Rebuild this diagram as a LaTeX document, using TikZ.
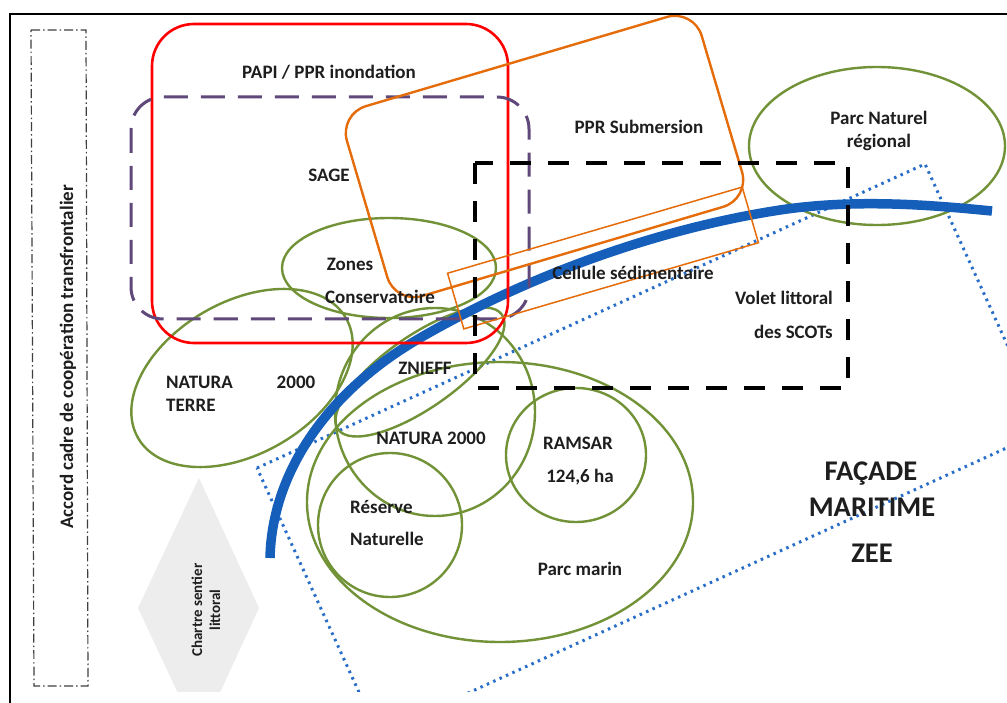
\documentclass[tikz,border=0pt]{standalone}
\usepackage{fontspec}
\setmainfont{Carlito}
\definecolor{grn}{RGB}{113,146,55}
\definecolor{sea}{RGB}{21,94,186}
\definecolor{dotblue}{RGB}{40,110,200}
\definecolor{org}{RGB}{228,108,10}
\definecolor{prp}{RGB}{96,73,122}
\definecolor{txt}{RGB}{30,30,30}
\definecolor{hexfill}{RGB}{237,237,237}
\tikzset{
  zone/.style={draw=grn, line width=2.4pt},
  lbl/.style={font=\bfseries\fontsize{19}{23}\selectfont, text=txt, inner sep=0pt},
  big/.style={font=\bfseries\fontsize{28.5}{32}\selectfont, text=txt, inner sep=0pt},
  small/.style={font=\bfseries\fontsize{15}{18}\selectfont, text=txt, inner sep=0pt},
}
\begin{document}
\begin{tikzpicture}[x=1pt,y=-1pt]
\useasboundingbox (0,0) rectangle (1007,703);
\fill[white] (0,0) rectangle (1007,703);

\begin{scope}
\clip (0,0) rectangle (1007,691);

% framework agreement box
\draw[black!75, line width=1.2pt, dash pattern=on 9pt off 3pt on 1.5pt off 3pt]
  (31,30) -- (86,30) -- (88,686) -- (34,686) -- cycle;
\node[lbl, rotate=90] (accord) at (68,357) {Accord cadre de coopération transfrontalier};

% coastal path charter
\fill[hexfill] (199,478) -- (259,608) -- (199,738) -- (138,608) -- cycle;
\node[small, rotate=90, align=center] (charte) at (206,610) {Chartre sentier\\littoral};

% maritime zone (dotted)
\draw[dotblue, line width=3pt, dash pattern=on 2.5pt off 4.5pt]
  (257,468) -- (925,164) -- (1046,430) -- (378,734) -- cycle;

% protected areas
\draw[zone] (877,146) ellipse [x radius=128, y radius=79];
\draw[zone] (389,268) ellipse [x radius=107, y radius=50];
\draw[zone, rotate around={30:(242,378)}] (242,378) ellipse [x radius=120, y radius=76];
\draw[zone, rotate around={35:(420,372)}] (420,372) ellipse [x radius=100, y radius=36];
\draw[zone] (435,412) ellipse [x radius=100, y radius=104];
\draw[zone] (390,525) circle [radius=72];
\draw[zone] (576,455) ellipse [x radius=70, y radius=67];
\draw[zone] (500,502) ellipse [x radius=193, y radius=140];

% coastline
\draw[sea, line width=9.5pt]
  (270,558) .. controls (272,470) and (330,390) .. (420,338)
            .. controls (520,280) and (650,230) .. (780,210)
            .. controls (860,198) and (940,206) .. (992,211);

% flood plans
\draw[red, line width=2.6pt, rounded corners=42] (152,24) rectangle (508,343);
\draw[prp, line width=3pt, dash pattern=on 24pt off 13pt, rounded corners=32] (131,97) rectangle (529,319);

% submersion and sediment cell
\draw[org, line width=2.4pt, rounded corners=28, rotate around={16.5:(544.5,156.5)}]
  (359.5,57.5) rectangle (729.5,255.5);
\draw[org, line width=1.5pt, rotate around={16.3:(603,258)}]
  (449.5,229) rectangle (756.5,287);

% SCOT coastal section
\draw[black, line width=4.5pt, dash pattern=on 21pt off 17pt] (475,163) rectangle (848,388);
\end{scope}

% outer frame
\draw[black, line width=2.5pt] (10,703) -- (10,14) -- (1007,14);

% labels
\node[lbl] (papi) at (329,72) {PAPI / PPR inondation};
\node[lbl] (sage) at (329,175) {SAGE};
\node[lbl] (ppr) at (639,127) {PPR Submersion};
\node[lbl] (pnr1) at (879,118) {Parc Naturel};
\node[lbl] (pnr2) at (879,142) {régional};
\node[lbl] (zones) at (350,264) {Zones};
\node[lbl] (cons) at (380,297) {Conservatoire};
\node[lbl] (cell) at (633,273) {Cellule sédimentaire};
\node[lbl, anchor=east] (volet) at (833,298) {Volet littoral};
\node[lbl, anchor=east] (scot) at (833,332) {des SCOTs};
\node[lbl] (znieff) at (425,368) {ZNIEFF};
\node[lbl] (natura) at (431,438) {NATURA 2000};
\node[lbl, anchor=west] (nt1) at (166,382) {NATURA};
\node[lbl] (nt2) at (296,382) {2000};
\node[lbl, anchor=west] (nt3) at (166,405) {TERRE};
\node[lbl] (ramsar) at (578,443) {RAMSAR};
\node[lbl] (ha) at (580,477) {124,6 ha};
\node[lbl, anchor=west] (res1) at (350,507) {Réserve};
\node[lbl, anchor=west] (res2) at (350,539) {Naturelle};
\node[lbl] (marin) at (580,569) {Parc marin};
\node[big] (facade) at (871,474) {FAÇADE};
\node[big] (mari) at (872,507) {MARITIME};
\node[big] (zee) at (872,553) {ZEE};
\end{tikzpicture}
\end{document}
